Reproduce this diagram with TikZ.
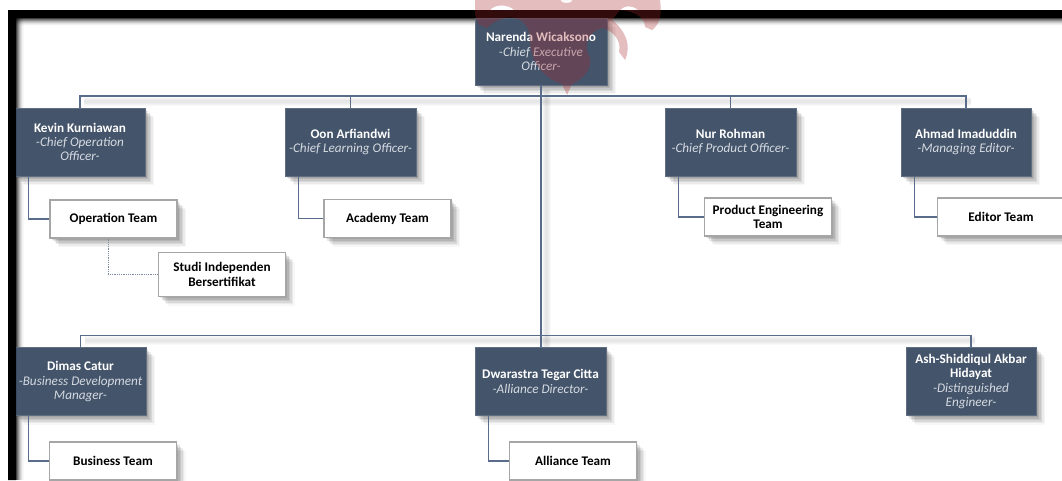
\documentclass[tikz,border=0pt]{standalone}
\usepackage{fontspec}
\setmainfont{Carlito}
\usetikzlibrary{shadows}
\definecolor{boxblue}{HTML}{44546A}
\definecolor{linkblue}{HTML}{5A6C8C}
\definecolor{subtext}{HTML}{D5DAE2}
\definecolor{logored}{HTML}{A8262C}
\tikzset{
  softshadow/.style={
    general shadow={shadow xshift=1.5pt,shadow yshift=-1.5pt,fill=black,fill opacity=.09,draw=none},
    general shadow={shadow xshift=3pt,shadow yshift=-3pt,fill=black,fill opacity=.09,draw=none},
    general shadow={shadow xshift=4.5pt,shadow yshift=-4.5pt,fill=black,fill opacity=.08,draw=none},
    general shadow={shadow xshift=6pt,shadow yshift=-6pt,fill=black,fill opacity=.07,draw=none},
    general shadow={shadow xshift=7.5pt,shadow yshift=-7.5pt,fill=black,fill opacity=.05,draw=none},
    general shadow={shadow xshift=9pt,shadow yshift=-9pt,fill=black,fill opacity=.03,draw=none}},
  headbox/.style={softshadow,rectangle,fill=boxblue,draw=boxblue!85!white,line width=.6pt,
    minimum width=#1,minimum height=68pt,inner sep=0pt,align=center,text=white,
    font=\fontsize{13.2}{14.2}\selectfont},
  headbox/.default=130pt,
  teambox/.style={softshadow,rectangle,fill=white,draw=black!35,line width=1.2pt,
    minimum width=127pt,minimum height=38pt,inner sep=0pt,align=center,text=black,
    font=\fontsize{13.2}{14.2}\selectfont\bfseries},
  link/.style={draw=linkblue,line width=1.3pt},
  dotlink/.style={draw=linkblue!80,line width=.8pt,densely dotted},
  linkshade/.style={draw=black,opacity=.025},
}
\newcommand{\nm}[1]{{\bfseries #1}}
\newcommand{\ti}[1]{{\color{subtext}\itshape #1}}
\begin{document}
\begin{tikzpicture}[x=1pt,y=-1pt]
\useasboundingbox (0,0) rectangle (1062,480);
\fill[white] (0,0) rectangle (1062,480);
\begin{scope}
\clip (0,0) rectangle (1062,480);
% shading of the frame
\foreach \d/\o in {1/.32,2/.24,3/.18,4/.13,5/.09,6/.06,7/.04,8/.02}{
  \fill[black,opacity=\o] (16,18) rectangle (1062,18+\d);
  \fill[black,opacity=\o] (16,18) rectangle (16+\d,480);
}
% coordinates of the buses
\coordinate (busT) at (540,96);
\coordinate (busB) at (540,335.5);
% soft shading under the connectors
\foreach \w in {3,5,7,9}{
  \draw[linkshade,line width=\w pt] (84,101) -- (971,101);
  \draw[linkshade,line width=\w pt] (85,340.5) -- (975,340.5);
  \draw[linkshade,line width=\w pt] (546,90) -- (546,347);
}
% nodes
\node[headbox=132pt,minimum height=67pt] (ceo) at (541,51.5) {\nm{Narenda Wicaksono}\\\ti{-Chief Executive}\\\ti{Officer-}};
\node[headbox] (kevin) at (80,142) {\nm{Kevin Kurniawan}\\\ti{-Chief Operation}\\\ti{Officer-}};
\node[headbox=131pt] (oon) at (350.5,142) {\nm{Oon Arfiandwi}\\\ti{-Chief Learning Officer-}};
\node[headbox=131pt] (nur) at (730.5,142) {\nm{Nur Rohman}\\\ti{-Chief Product Officer-}};
\node[headbox] (ahmad) at (966,142) {\nm{Ahmad Imaduddin}\\\ti{-Managing Editor-}};
\node[headbox=131pt] (dimas) at (80.5,381.5) {\nm{Dimas Catur}\\\ti{-Business Development}\\\ti{Manager-}};
\node[headbox=131pt] (dwar) at (540.5,381.5) {\nm{Dwarastra Tegar Citta}\\\ti{-Alliance Director-}};
\node[headbox] (ash) at (971,381.5) {\nm{Ash-Shiddiqul Akbar}\\\nm{Hidayat}\\\ti{-Distinguished}\\\ti{Engineer-}};
\node[teambox] (op) at (113.5,219) {Operation Team};
\node[teambox,minimum height=44pt] (studi) at (222,274.5) {Studi Independen\\Bersertifikat};
\node[teambox] (academy) at (387.5,218.5) {Academy Team};
\node[teambox] (product) at (768,217) {Product Engineering\\Team};
\node[teambox] (editor) at (1001,217) {Editor Team};
\node[teambox] (business) at (113,461) {Business Team};
\node[teambox] (alliance) at (573,461) {Alliance Team};
% connectors
\draw[link] (ceo.south) -- (ceo.south |- dwar.north);
\draw[link] (kevin.north) |- (busT) -| (ahmad.north);
\draw[link] (oon.north) -- (oon.north |- busT);
\draw[link] (nur.north) -- (nur.north |- busT);
\draw[link] (dimas.north) |- (busB) -| (ash.north);
\draw[link] ([xshift=14pt]kevin.south west) |- (op.west);
\draw[link] ([xshift=14pt]oon.south west) |- (academy.west);
\draw[link] ([xshift=14pt]nur.south west) |- (product.west);
\draw[link] ([xshift=14pt]ahmad.south west) |- (editor.west);
\draw[link] ([xshift=14pt]dimas.south west) |- (business.west);
\draw[link] ([xshift=14pt]dwar.south west) |- (alliance.west);
\draw[dotlink] ([xshift=-5.5pt]op.south) |- (studi.west);
% frame
\fill[black] (1062,10) -- (8,10) -- (8,480) -- (16,480) -- (16,18) -- (1062,18) -- cycle;
% watermark logo
\fill[logored,opacity=.3,even odd rule]
  (475,0) -- (660,0) .. controls (662,15) and (660,24) .. (652,30) -- (645,27)
  .. controls (645,18) and (635,11) .. (620,10) -- (612,20)
  .. controls (625,30) and (632,45) .. (625,60) -- (619,52)
  .. controls (622,40) and (612,30) .. (602,28)
  .. controls (588,32) and (582,45) .. (590,58)
  .. controls (592,72) and (580,80) .. (572,84) -- (567,95) -- (562,84)
  .. controls (548,80) and (530,65) .. (530,40)
  .. controls (530,30) and (525,20) .. (515,18)
  .. controls (505,16) and (495,20) .. (487,28) -- (478,24) -- (475,15) -- cycle
  (490,10) .. controls (495,4) and (508,4) .. (514,10) -- cycle
  (620,10) .. controls (625,5) and (632,5) .. (638,10) -- cycle
  (560,0) .. controls (562,4) and (571,4) .. (573,0) -- cycle;
\end{scope}
\end{tikzpicture}
\end{document}
